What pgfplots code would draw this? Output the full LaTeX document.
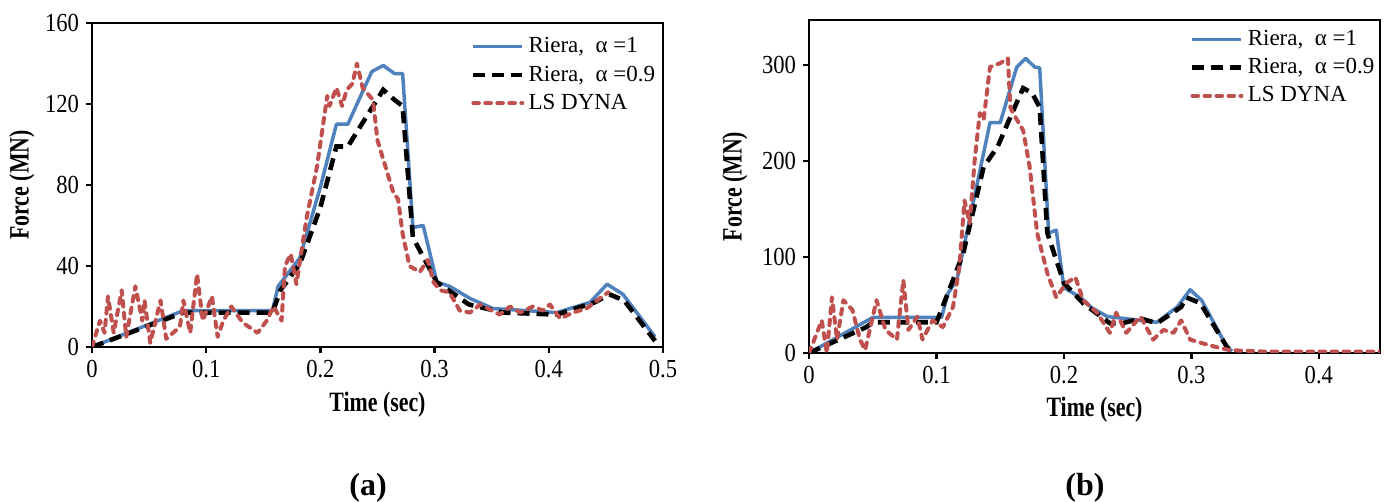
\documentclass[border=0pt]{standalone}
\usepackage{pgfplots}
\pgfplotsset{compat=1.18}
\usepackage{fontspec}
\setmainfont{Liberation Serif}
\newfontfamily\tickfont[FakeStretch=0.87]{Liberation Serif}
\newfontfamily\labfont[FakeStretch=0.78]{Liberation Serif}
\definecolor{rblue}{RGB}{79,129,189}
\definecolor{rred}{RGB}{192,80,77}
\pgfplotstableread{
t F
0 0
0.08 18
0.158 18
0.163 30
0.182 44
0.2 79
0.214 110
0.224 110
0.245 136
0.255 139
0.265 135
0.272 135
0.281 59
0.29 60
0.302 32
0.313 30
0.331 24
0.351 19
0.407 17
0.436 22
0.451 31
0.465 26
0.493 5
}\blueA
\pgfplotstableread{
t F
0 0
0.08 17
0.158 17
0.165 28
0.182 41
0.2 69
0.214 99
0.224 99
0.255 127
0.265 122
0.272 119
0.281 54
0.302 32
0.33 21
0.36 17
0.407 16
0.44 22
0.453 26
0.466 23
0.493 3
}\blackA
\pgfplotstableread{
t F
0 0
0.007 13
0.011 7
0.014 25
0.019 7
0.026 28
0.03 5
0.038 30
0.044 13
0.046 23
0.051 2
0.06 23
0.065 4
0.077 10
0.08 23
0.086 7
0.092 36
0.097 13
0.105 25
0.11 5
0.115 13
0.122 20
0.132 12
0.145 7
0.153 13
0.159 20
0.166 13
0.169 40
0.174 46
0.179 31
0.188 64
0.197 89
0.206 124
0.208 119
0.214 128
0.219 119
0.223 127
0.228 130
0.232 140
0.237 128
0.246 122
0.25 102
0.257 89
0.264 76
0.268 73
0.272 56
0.278 40
0.287 37
0.294 43
0.299 32
0.305 28
0.313 27
0.322 18
0.331 17
0.34 21
0.357 16
0.366 20
0.375 17
0.386 20
0.395 18
0.401 21
0.41 14
0.421 17
0.433 19
0.447 25
0.452 27
}\redA
\pgfplotstableread{
t F
0 0
0.05 37
0.104 37
0.109 62
0.116 76
0.142 240
0.15 240
0.163 298
0.17 307
0.177 298
0.181 297
0.188 125
0.194 128
0.2 68
0.213 58
0.222 47
0.234 38
0.273 32
0.289 48
0.299 66
0.308 55
0.328 6
0.332 2
}\blueB
\pgfplotstableread{
t F
0 0
0.045 27
0.05 32
0.1 32
0.113 76
0.121 104
0.137 194
0.148 215
0.158 246
0.168 276
0.175 271
0.181 256
0.187 125
0.2 73
0.215 52
0.236 31
0.246 31
0.26 36
0.273 31
0.292 48
0.296 58
0.307 52
0.328 6
0.332 2
}\blackB
\pgfplotstableread{
t F
0 0
0.01 34
0.014 0
0.018 58
0.022 14
0.027 55
0.034 45
0.04 14
0.044 3
0.053 55
0.06 24
0.069 14
0.074 76
0.078 24
0.085 38
0.089 14
0.097 34
0.105 27
0.113 48
0.118 90
0.122 159
0.126 135
0.13 201
0.134 250
0.137 243
0.142 298
0.15 302
0.156 307
0.158 256
0.16 250
0.168 232
0.173 195
0.179 125
0.187 83
0.194 58
0.202 73
0.209 79
0.215 55
0.226 42
0.236 21
0.241 42
0.249 21
0.26 38
0.27 14
0.278 24
0.286 21
0.292 34
0.299 14
0.309 10
0.32 6
0.33 3
0.356 1.5
0.45 1.5
}\redB
\pgfplotsset{
  myaxis/.style={
    scale only axis,
    anchor=south west,
    axis line style={line width=1.3pt},
    tick align=outside,
    tick pos=left,
    major tick length=3pt,
    tick style={line width=1.2pt, black},
    /pgf/number format/assume math mode=true,
    ticklabel style={font=\tickfont\fontsize{13}{13}\selectfont},
    label style={font=\labfont\bfseries\fontsize{14}{14}\selectfont},
    legend style={draw=none, fill=none, font=\fontsize{11.5}{11.5}\selectfont,
      anchor=north east, row sep=1pt, inner sep=0pt},
    legend cell align=left,
    legend image code/.code={\draw[##1] (-3.5pt,0pt) -- (21pt,0pt);},
  },
  bl/.style={color=rblue, line width=1.75pt, line join=round},
  bk/.style={color=black, line width=2.3pt, dash pattern=on 6pt off 3.5pt},
  rd/.style={color=rred, line width=2pt, line cap=round, line join=round, dash pattern=on 2.8pt off 3.2pt},
}
\begin{document}
\begin{tikzpicture}
\path[use as bounding box] (0,0) rectangle (692.5pt,251pt);
\begin{axis}[myaxis,
  at={(46pt,77.5pt)}, width=285.5pt, height=162pt,
  xmin=0, xmax=0.5, ymin=0, ymax=160,
  xtick={0,0.1,0.2,0.3,0.4,0.5}, xticklabels={0,0.1,0.2,0.3,0.4,0.5},
  ytick={0,40,80,120,160},
  xlabel={Time (sec)}, ylabel={Force (MN)},
  xlabel style={at={([yshift=-29pt]axis description cs:0.5,0)}, anchor=center},
  ylabel style={at={([xshift=-35pt]axis description cs:0,0.5)}, anchor=center},
  legend style={at={(axis cs:0.497,155)}},
]
\addplot[bl] table[x=t,y=F]{\blueA};
\addlegendentry{Riera,\ \ α =1}
\addplot[bk] table[x=t,y=F]{\blackA};
\addlegendentry{Riera,\ \ α =0.9}
\addplot[rd] table[x=t,y=F]{\redA};
\addlegendentry{LS DYNA}
\end{axis}
\begin{axis}[myaxis,
  at={(404.5pt,74.5pt)}, width=285.5pt, height=166.5pt,
  xmin=0, xmax=0.448, ymin=0, ymax=347,
  xtick={0,0.1,0.2,0.3,0.4}, xticklabels={0,0.1,0.2,0.3,0.4},
  ytick={0,100,200,300},
  xlabel={Time (sec)}, ylabel={Force (MN)},
  xlabel style={at={([yshift=-28.5pt]axis description cs:0.5,0)}, anchor=center},
  ylabel style={at={([xshift=-37pt]axis description cs:0,0.5)}, anchor=center},
  legend style={at={(axis cs:0.447,341)}},
]
\addplot[bl] table[x=t,y=F]{\blueB};
\addlegendentry{Riera,\ \ α =1}
\addplot[bk] table[x=t,y=F]{\blackB};
\addlegendentry{Riera,\ \ α =0.9}
\addplot[rd] table[x=t,y=F]{\redB};
\addlegendentry{LS DYNA}
\end{axis}
\node[font=\bfseries\fontsize{16}{16}\selectfont] at (184pt,7pt) {(a)};
\node[font=\bfseries\fontsize{16}{16}\selectfont] at (542.5pt,7pt) {(b)};
\end{tikzpicture}
\end{document}
